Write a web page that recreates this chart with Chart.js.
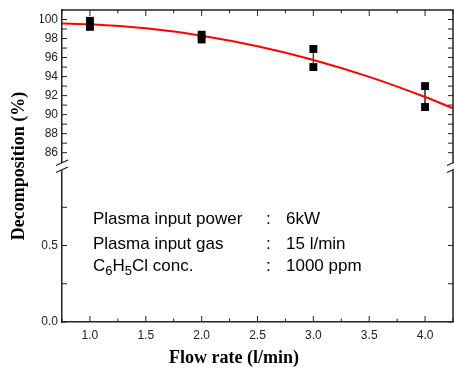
<!DOCTYPE html>
<html><head><meta charset="utf-8">
<script src="https://cdn.jsdelivr.net/npm/chart.js@4/dist/chart.umd.min.js"></script>
<style>html,body{margin:0;padding:0;background:#fff;}#wrap{width:454px;height:371px;position:relative}</style>
</head><body><div id="wrap"><canvas id="c" width="454" height="371"></canvas></div>
<script>
// ---- data ----
const flowRates = [1.0, 1.0, 2.0, 2.0, 3.0, 3.0, 4.0, 4.0];
const decomposition = [99.86, 99.23, 98.4, 97.9, 96.9, 95.0, 93.0, 90.8];
const fitX = [0.75, 1.0, 1.5, 2.0, 2.5, 3.0, 3.5, 4.0, 4.25];
const fitY = [99.59, 99.5, 99.07, 98.3, 97.19, 95.75, 93.97, 91.85, 90.66];
const xTicks = [1.0, 1.5, 2.0, 2.5, 3.0, 3.5, 4.0];
const upperTicks = [86, 88, 90, 92, 94, 96, 98, 100];
const lowerTicks = [0.0, 0.5];
const conditionLabels = ['Plasma input power', 'Plasma input gas', 'C6H5Cl conc.'];
const conditionValues = ['6kW', '15 l/min', '1000 ppm'];
const xTitle = 'Flow rate (l/min)';
const yTitle = 'Decomposition (%)';

// ---- build datasets ----
const points = flowRates.map((x, i) => ({x, y: decomposition[i]}));
const errorBars = [];
for (let i = 0; i < flowRates.length; i += 2) {
  errorBars.push({x: flowRates[i], y: decomposition[i]});
  errorBars.push({x: flowRates[i + 1], y: decomposition[i + 1]});
  errorBars.push({x: flowRates[i], y: null});
}
const fit = fitX.map((x, i) => ({x, y: fitY[i]}));

const mids = arr => arr.slice(1).map((v, i) => (v + arr[i]) / 2);

const decor = {
  id: 'decor',
  afterDraw(chart) {
    const {ctx, chartArea: a, scales} = chart;
    const xs = scales.x, yu = scales.y, yl = scales.y2;
    ctx.save();
    ctx.strokeStyle = '#222';
    ctx.lineWidth = 1.5;
    ctx.beginPath();
    ctx.moveTo(a.left, a.top); ctx.lineTo(a.right, a.top); ctx.lineTo(a.right, a.bottom);
    ctx.stroke();
    ctx.lineWidth = 1;
    const seg = (x1, y1, x2, y2) => { ctx.beginPath(); ctx.moveTo(x1, y1); ctx.lineTo(x2, y2); ctx.stroke(); };
    // x ticks (bottom + top, inward)
    const xMinor = mids(xTicks).concat([xTicks[0] - 0.25, xTicks[xTicks.length - 1] + 0.25]);
    xTicks.forEach(v => { const p = xs.getPixelForValue(v); seg(p, a.bottom, p, a.bottom - 6); seg(p, a.top, p, a.top + 6); });
    xMinor.forEach(v => { const p = xs.getPixelForValue(v); seg(p, a.bottom, p, a.bottom - 3.5); seg(p, a.top, p, a.top + 3.5); });
    // upper y ticks
    mids(upperTicks).concat(upperTicks).forEach(v => {
      const p = yu.getPixelForValue(v);
      seg(a.left, p, a.left + 5, p); seg(a.right, p, a.right - 5, p);
    });
    // lower y ticks
    mids(lowerTicks).concat(lowerTicks, [lowerTicks[1] + 0.25]).forEach(v => {
      const p = yl.getPixelForValue(v);
      seg(a.left, p, a.left + 5, p); seg(a.right, p, a.right - 5, p);
    });
    // axis break
    const yb = yu.bottom;
    ctx.fillStyle = '#fff';
    ctx.fillRect(a.left - 2, yb - 3, 4, 7);
    ctx.fillRect(a.right - 2, yb - 3, 4, 7);
    ctx.lineWidth = 1.2;
    [a.left, a.right].forEach(x => {
      seg(x - 6, yb - 0.5, x + 6, yb - 6);
      seg(x - 6, yb + 6.5, x + 6, yb + 1);
    });
    // titles
    ctx.fillStyle = '#000';
    ctx.font = 'bold 18px "Liberation Serif", "Times New Roman", serif';
    ctx.textAlign = 'center'; ctx.textBaseline = 'middle';
    ctx.fillText(xTitle, 234, 358);
    ctx.save();
    ctx.translate(19, 166); ctx.rotate(-Math.PI / 2);
    ctx.fillText(yTitle, 0, 0);
    ctx.restore();
    // conditions
    const base = [224, 248.5, 271];
    ctx.textAlign = 'left'; ctx.textBaseline = 'alphabetic';
    conditionLabels.forEach((t, i) => {
      let x = 93;
      for (let j = 0; j < t.length; j++) {
        const ch = t[j];
        const sub = /[0-9]/.test(ch) && j > 0 && /[A-Z]/i.test(t[j - 1]);
        ctx.font = sub ? '13px "Liberation Sans", Arial, sans-serif' : '17px "Liberation Sans", Arial, sans-serif';
        ctx.fillText(ch, x, base[i] + (sub ? 4 : 0));
        x += ctx.measureText(ch).width;
      }
      ctx.font = '17px "Liberation Sans", Arial, sans-serif';
      ctx.fillText(':', 266, base[i]);
      ctx.fillText(conditionValues[i], 286, base[i]);
    });
    ctx.restore();
  }
};

const tickFont = {family: '"Liberation Sans", Arial, sans-serif', size: 12};
new Chart(document.getElementById('c'), {
  type: 'scatter',
  data: {
    datasets: [
      {data: points, yAxisID: 'y', pointStyle: 'rect', pointRadius: 5.6, pointHoverRadius: 5.6,
       backgroundColor: '#000', borderColor: '#000', borderWidth: 0, order: 1},
      {data: errorBars, yAxisID: 'y', showLine: true, spanGaps: false, pointRadius: 0,
       borderColor: '#444', borderWidth: 1, order: 3},
      {data: fit, yAxisID: 'y', showLine: true, pointRadius: 0, borderColor: '#ff0000',
       borderWidth: 2, tension: 0.4, cubicInterpolationMode: 'monotone', order: 2}
    ]
  },
  options: {
    responsive: false, animation: false, devicePixelRatio: 1,
    layout: {autoPadding: false, padding: {left: 40, right: 1, top: 10, bottom: 0}},
    plugins: {legend: {display: false}, tooltip: {enabled: false}},
    scales: {
      x: {type: 'linear', min: 0.75, max: 4.25,
          afterBuildTicks: s => { s.ticks = xTicks.map(v => ({value: v})); },
          afterFit: s => { s.height = 49; s.paddingLeft = 0; s.paddingRight = 0; },
          ticks: {callback: v => Number(v).toFixed(1), font: tickFont, color: '#222', padding: 6, maxRotation: 0, autoSkip: false},
          grid: {drawOnChartArea: false, drawTicks: false},
          border: {display: true, color: '#222', width: 1.5}},
      y2: {type: 'linear', position: 'left', stack: 'v', stackWeight: 1, min: 0, max: 1.02,
          afterBuildTicks: s => { s.ticks = lowerTicks.map(v => ({value: v})); },
          afterFit: s => { s.width = 22; s.paddingTop = 0; s.paddingBottom = 0; },
          ticks: {callback: v => Number(v).toFixed(1), font: tickFont, color: '#222', padding: 4, autoSkip: false},
          grid: {drawOnChartArea: false, drawTicks: false},
          border: {display: true, color: '#222', width: 1.5}},
      y: {type: 'linear', position: 'left', stack: 'v', stackWeight: 1, min: 84.6, max: 101,
          afterBuildTicks: s => { s.ticks = upperTicks.map(v => ({value: v})); },
          afterFit: s => { s.width = 22; s.paddingTop = 0; s.paddingBottom = 0; },
          ticks: {callback: v => String(v), font: tickFont, color: '#222', padding: 4, autoSkip: false},
          grid: {drawOnChartArea: false, drawTicks: false},
          border: {display: true, color: '#222', width: 1.5}}
    }
  },
  plugins: [decor]
});
</script></body></html>
